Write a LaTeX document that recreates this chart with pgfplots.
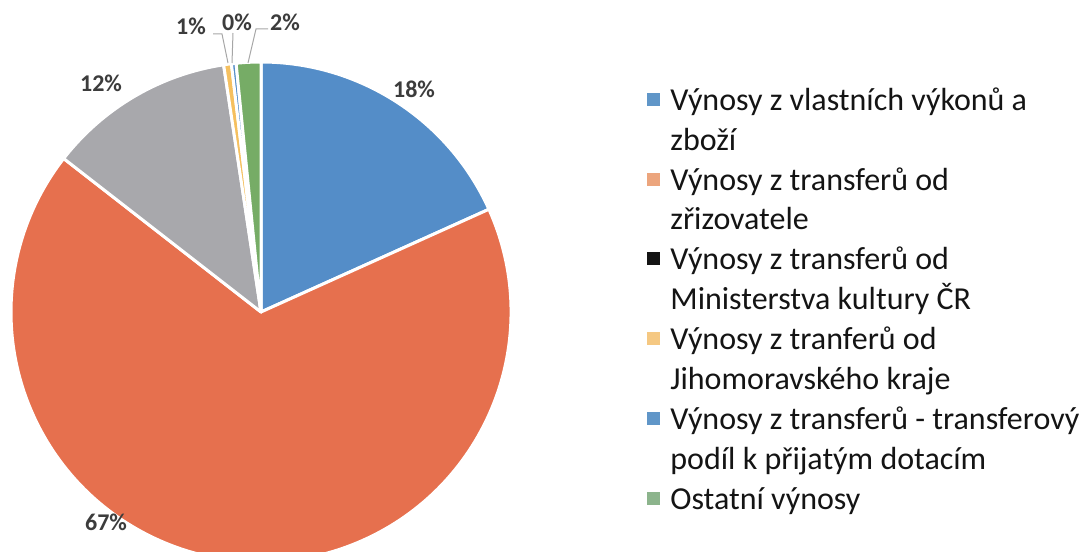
\documentclass[border=0pt]{standalone}
\usepackage{pgfplots}
\pgfplotsset{compat=1.18}
\usepackage{pgfplotstable}
\usepackage{fontspec}
\setmainfont{Carlito}
\definecolor{cblue}{RGB}{84,141,200}
\definecolor{corange}{RGB}{230,112,78}
\definecolor{cgray}{RGB}{168,168,172}
\definecolor{cyellow}{RGB}{245,192,95}
\definecolor{cgreen}{RGB}{118,172,102}
\definecolor{lblue}{RGB}{96,150,200}
\definecolor{lorange}{RGB}{236,165,125}
\definecolor{lblack}{RGB}{20,20,20}
\definecolor{lyellow}{RGB}{245,200,130}
\definecolor{lgreen}{RGB}{140,180,140}
\definecolor{lbltxt}{RGB}{60,60,60}

\pgfplotstableread{
value color
18.26 cblue
67.26 corange
12.09 cgray
0.50  cyellow
0.30  cblue
1.59  cgreen
}\piedata

\begin{document}
\begin{tikzpicture}[
  pl/.style={anchor=base, text=lbltxt, font=\bfseries\fontsize{12}{14}\selectfont, inner sep=0pt},
  lt/.style={anchor=base west, inner sep=0pt, text=black!92, font=\fontsize{16}{19.5}\selectfont},
  lm/.style={minimum size=6.5pt, inner sep=0pt, draw=none}]
\pgfplotstablegetrowsof{\piedata}
\pgfmathtruncatemacro{\N}{\pgfplotsretval-1}
\begin{axis}[
  x=0.5pt, y=0.5pt,
  xmin=0, xmax=1089, ymin=0, ymax=552,
  hide axis, clip=true,
]
\coordinate (ll) at (axis cs:0,0);
\coordinate (ur) at (axis cs:1089,552);
\def\cum{0}
\pgfplotsforeachungrouped \i in {0,...,\N}{
  \pgfplotstablegetelem{\i}{value}\of\piedata \let\sliceval\pgfplotsretval
  \pgfplotstablegetelem{\i}{color}\of\piedata \let\slicecol\pgfplotsretval
  \pgfmathsetmacro{\angA}{90-3.6*\cum}
  \pgfmathsetmacro{\angB}{90-3.6*(\cum+\sliceval)}
  \edef\temp{\noexpand\fill[\slicecol, draw=white, line width=1.5pt, line join=round] (axis cs:261,240) -- ++(\angA:125pt) arc[start angle=\angA, end angle=\angB, radius=125pt] -- cycle;}
  \temp
  \pgfmathsetmacro{\newcum}{\cum+\sliceval}
  \global\let\cum\newcum
}
% leader lines
\addplot[gray!70, line width=0.5pt, no marks] coordinates {(213,518) (222,518) (228,489)};
\addplot[gray!70, line width=0.5pt, no marks] coordinates {(233,519) (232,489)};
\addplot[gray!70, line width=0.5pt, no marks] coordinates {(268,523) (256,523) (248,489)};
% percentage labels
\node[pl] at (axis cs:414,454) {18\%};
\node[pl] at (axis cs:101,460) {12\%};
\node[pl] at (axis cs:106,21) {67\%};
\node[pl] at (axis cs:191,517) {1\%};
\node[pl] at (axis cs:237,521) {0\%};
\node[pl] at (axis cs:285,521) {2\%};
% legend
\node[lm, fill=lblue]   at (axis cs:653,452.5) {};
\node[lm, fill=lorange] at (axis cs:653,372.5) {};
\node[lm, fill=lblack]  at (axis cs:653,293.5) {};
\node[lm, fill=lyellow] at (axis cs:653,213.5) {};
\node[lm, fill=lblue]   at (axis cs:653,133.5) {};
\node[lm, fill=lgreen]  at (axis cs:653,53.5) {};
\node[lt] at (axis cs:670,441) {Výnosy z vlastních výkonů a};
\node[lt] at (axis cs:670,401) {zboží};
\node[lt] at (axis cs:670,361) {Výnosy z transferů od};
\node[lt] at (axis cs:670,322) {zřizovatele};
\node[lt] at (axis cs:670,282) {Výnosy z transferů od};
\node[lt] at (axis cs:670,242) {Ministerstva kultury ČR};
\node[lt] at (axis cs:670,202) {Výnosy z tranferů od};
\node[lt] at (axis cs:670,162) {Jihomoravského kraje};
\node[lt] at (axis cs:670,122) {Výnosy z transferů - transferový};
\node[lt] at (axis cs:670,82) {podíl k přijatým dotacím};
\node[lt] at (axis cs:670,42) {Ostatní výnosy};
\end{axis}
\pgfresetboundingbox
\path[use as bounding box] (ll) rectangle (ur);
\end{tikzpicture}
\end{document}
